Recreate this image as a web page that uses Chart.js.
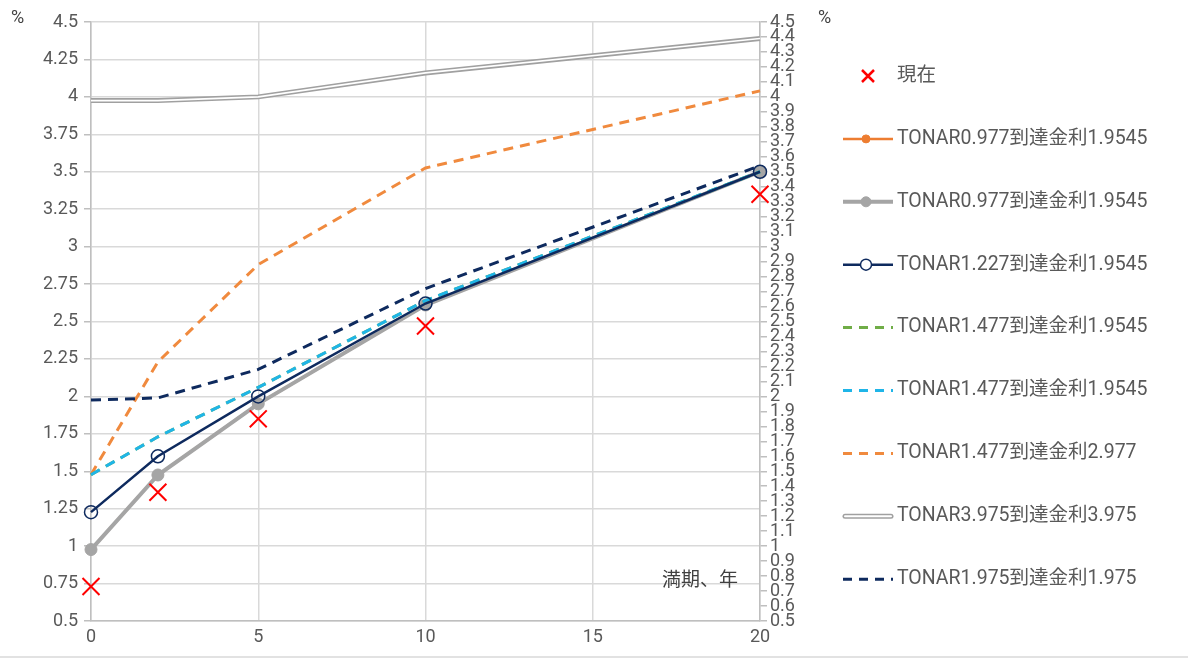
<!DOCTYPE html>
<html>
<head>
<meta charset="utf-8">
<script src="https://cdn.jsdelivr.net/npm/chart.js@4/dist/chart.umd.min.js"></script>
<style>
html, body { margin: 0; padding: 0; background: #fff; }
#wrap { width: 1188px; height: 659px; }
</style>
</head>
<body>
<div id="wrap"><canvas id="yieldChart" width="1188" height="659"></canvas></div>
<script>
// 満期（年）
const maturities = [0, 2, 5, 10, 20];

// 利回り（%）
const current     = [0.73, 1.36, 1.85, 2.47, 3.35];
const tonar0977   = [0.977, 1.475, 1.95, 2.61, 3.5];
const tonar1227   = [1.227, 1.60, 2.0, 2.62, 3.5];
const tonar1477   = [1.477, 1.73, 2.06, 2.64, 3.5];
const tonar1477b  = [1.477, 2.23, 2.88, 3.525, 4.04];
const tonar3975   = [3.975, 3.975, 4.0, 4.16, 4.39];
const tonar1975   = [1.975, 1.99, 2.18, 2.72, 3.54];

const seriesNames = [
    '現在',
    'TONAR0.977到達金利1.9545',
    'TONAR0.977到達金利1.9545',
    'TONAR1.227到達金利1.9545',
    'TONAR1.477到達金利1.9545',
    'TONAR1.477到達金利1.9545',
    'TONAR1.477到達金利2.977',
    'TONAR3.975到達金利3.975',
    'TONAR1.975到達金利1.975'
];

const FONT = "Roboto, 'Noto Sans CJK JP', sans-serif";
const TEXT = '#595959';
const DASH = [10, 7];

const pts = (vals) => maturities.map((m, i) => ({ x: m, y: vals[i] }));
const fmt = (v) => String(Math.round(v * 100) / 100);

// 凡例（右側）を自前で描く
const sideLegend = {
    id: 'sideLegend',
    afterDraw(chart) {
        const ctx = chart.ctx;
        const x0 = 843, x1 = 893, tx = 897;
        let y = 76;
        ctx.save();
        chart.data.datasets.forEach(ds => {
            if (ds.noLegend) return;
            const mid = (x0 + x1) / 2;
            if (ds.showLine === false) {
                // 赤いバツ
                ctx.strokeStyle = ds.borderColor;
                ctx.lineWidth = 2.5;
                ctx.beginPath();
                ctx.moveTo(mid - 6, y - 6); ctx.lineTo(mid + 6, y + 6);
                ctx.moveTo(mid + 6, y - 6); ctx.lineTo(mid - 6, y + 6);
                ctx.stroke();
            } else if (ds.doubleLine) {
                ctx.lineCap = 'round';
                ctx.strokeStyle = ds.borderColor;
                ctx.lineWidth = ds.borderWidth;
                ctx.beginPath(); ctx.moveTo(x0 + 2, y); ctx.lineTo(x1 - 2, y); ctx.stroke();
                ctx.strokeStyle = '#fff';
                ctx.lineWidth = 2;
                ctx.beginPath(); ctx.moveTo(x0 + 2, y); ctx.lineTo(x1 - 2, y); ctx.stroke();
                ctx.lineCap = 'butt';
            } else {
                ctx.strokeStyle = ds.borderColor;
                ctx.lineWidth = ds.borderWidth;
                ctx.setLineDash(ds.borderDash ? [9, 7] : []);
                ctx.beginPath(); ctx.moveTo(x0, y); ctx.lineTo(x1, y); ctx.stroke();
                ctx.setLineDash([]);
                if (ds.pointRadius > 0) {
                    ctx.fillStyle = ds.hollow ? '#ffffff' : ds.pointBackgroundColor;
                    ctx.strokeStyle = ds.pointBorderColor;
                    ctx.lineWidth = ds.pointBorderWidth;
                    ctx.beginPath(); ctx.arc(mid - 2, y, ds.pointRadius - 1, 0, Math.PI * 2);
                    ctx.fill(); ctx.stroke();
                }
            }
            ctx.fillStyle = TEXT;
            ctx.font = '19.5px ' + FONT;
            ctx.textBaseline = 'middle';
            ctx.textAlign = 'left';
            ctx.fillText(ds.label, tx, y);
            y += 62.9;
        });

        // 単位・軸ラベル
        ctx.font = '18px ' + FONT;
        ctx.fillStyle = '#404040';
        ctx.fillText('%', 11, 18);
        ctx.fillText('%', 818, 18);
        ctx.font = '19px ' + FONT;
        ctx.fillText('満期、年', 662, 581);

        // 下端の枠線
        ctx.strokeStyle = '#d9d9d9';
        ctx.lineWidth = 1.5;
        ctx.beginPath(); ctx.moveTo(0, 657); ctx.lineTo(1188, 657); ctx.stroke();
        ctx.restore();
    }
};

const ctx = document.getElementById('yieldChart').getContext('2d');
const yieldChart = new Chart(ctx, {
    type: 'line',
    data: {
        datasets: [{
            label: seriesNames[0],
            data: pts(current),
            showLine: false,
            borderColor: '#ff0000',
            pointStyle: 'crossRot',
            pointRadius: 12,
            pointBorderWidth: 2,
            pointBorderColor: '#ff0000',
            order: 0
        }, {
            label: seriesNames[1],
            data: pts(tonar0977),
            borderColor: '#ed7d31',
            borderWidth: 2.5,
            pointRadius: 5,
            pointBackgroundColor: '#ed7d31',
            pointBorderColor: '#ed7d31',
            pointBorderWidth: 1,
            order: 7
        }, {
            label: seriesNames[2],
            data: pts(tonar0977),
            borderColor: '#a5a5a5',
            borderWidth: 4,
            pointRadius: 6,
            pointBackgroundColor: '#a5a5a5',
            pointBorderColor: '#a5a5a5',
            pointBorderWidth: 1,
            order: 6
        }, {
            label: seriesNames[3],
            data: pts(tonar1227),
            borderColor: '#0e2a5e',
            borderWidth: 2.5,
            pointRadius: 6.5,
            pointBackgroundColor: 'rgba(255,255,255,0)',
            pointBorderColor: '#0e2a5e',
            pointBorderWidth: 1.5,
            hollow: true,
            order: 2
        }, {
            label: seriesNames[4],
            data: pts(tonar1477),
            borderColor: '#70ad47',
            borderWidth: 3,
            borderDash: DASH,
            pointRadius: 0,
            order: 5
        }, {
            label: seriesNames[5],
            data: pts(tonar1477),
            borderColor: '#1fb5e8',
            borderWidth: 3,
            borderDash: DASH,
            pointRadius: 0,
            order: 3
        }, {
            label: seriesNames[6],
            data: pts(tonar1477b),
            borderColor: '#f08a3e',
            borderWidth: 3,
            borderDash: DASH,
            pointRadius: 0,
            order: 8
        }, {
            label: seriesNames[7],
            data: pts(tonar3975),
            borderColor: '#a0a0a0',
            borderWidth: 5,
            pointRadius: 0,
            doubleLine: true,
            order: 10
        }, {
            label: seriesNames[7],
            data: pts(tonar3975),
            borderColor: '#ffffff',
            borderWidth: 1.6,
            pointRadius: 0,
            noLegend: true,
            order: 9
        }, {
            label: seriesNames[8],
            data: pts(tonar1975),
            borderColor: '#0e2a5e',
            borderWidth: 3,
            borderDash: DASH,
            pointRadius: 0,
            order: 1
        }]
    },
    options: {
        responsive: false,
        animation: false,
        clip: false,
        layout: {
            padding: { left: 0, right: 368, top: 22, bottom: 0 }
        },
        plugins: {
            legend: { display: false },
            tooltip: { enabled: false }
        },
        scales: {
            x: {
                type: 'linear',
                min: 0,
                max: 20,
                ticks: {
                    stepSize: 5,
                    color: TEXT,
                    font: { family: FONT, size: 18 },
                    padding: 6
                },
                grid: { color: '#d9d9d9', lineWidth: 1.5, drawTicks: false },
                border: { color: '#bfbfbf', width: 1.5 },
                afterFit(scale) { scale.height = 38; }
            },
            y: {
                position: 'left',
                min: 0.5,
                max: 4.5,
                ticks: {
                    stepSize: 0.25,
                    color: TEXT,
                    font: { family: FONT, size: 18 },
                    padding: 6,
                    callback: fmt
                },
                grid: { color: '#d9d9d9', lineWidth: 1.5, tickLength: 7, tickColor: '#bfbfbf' },
                border: { color: '#bfbfbf', width: 1.5 },
                afterFit(scale) { scale.width = 91; }
            },
            y2: {
                position: 'right',
                min: 0.5,
                max: 4.5,
                ticks: {
                    stepSize: 0.1,
                    autoSkip: false,
                    color: TEXT,
                    font: { family: "'Liberation Sans Narrow', " + FONT, size: 18 },
                    padding: 3,
                    callback: fmt
                },
                grid: { drawOnChartArea: false, tickLength: 7, tickColor: '#bfbfbf', lineWidth: 1.5 },
                border: { color: '#bfbfbf', width: 1.5 },
                afterFit(scale) { scale.width = 60; }
            }
        }
    },
    plugins: [sideLegend]
});
</script>
</body>
</html>
